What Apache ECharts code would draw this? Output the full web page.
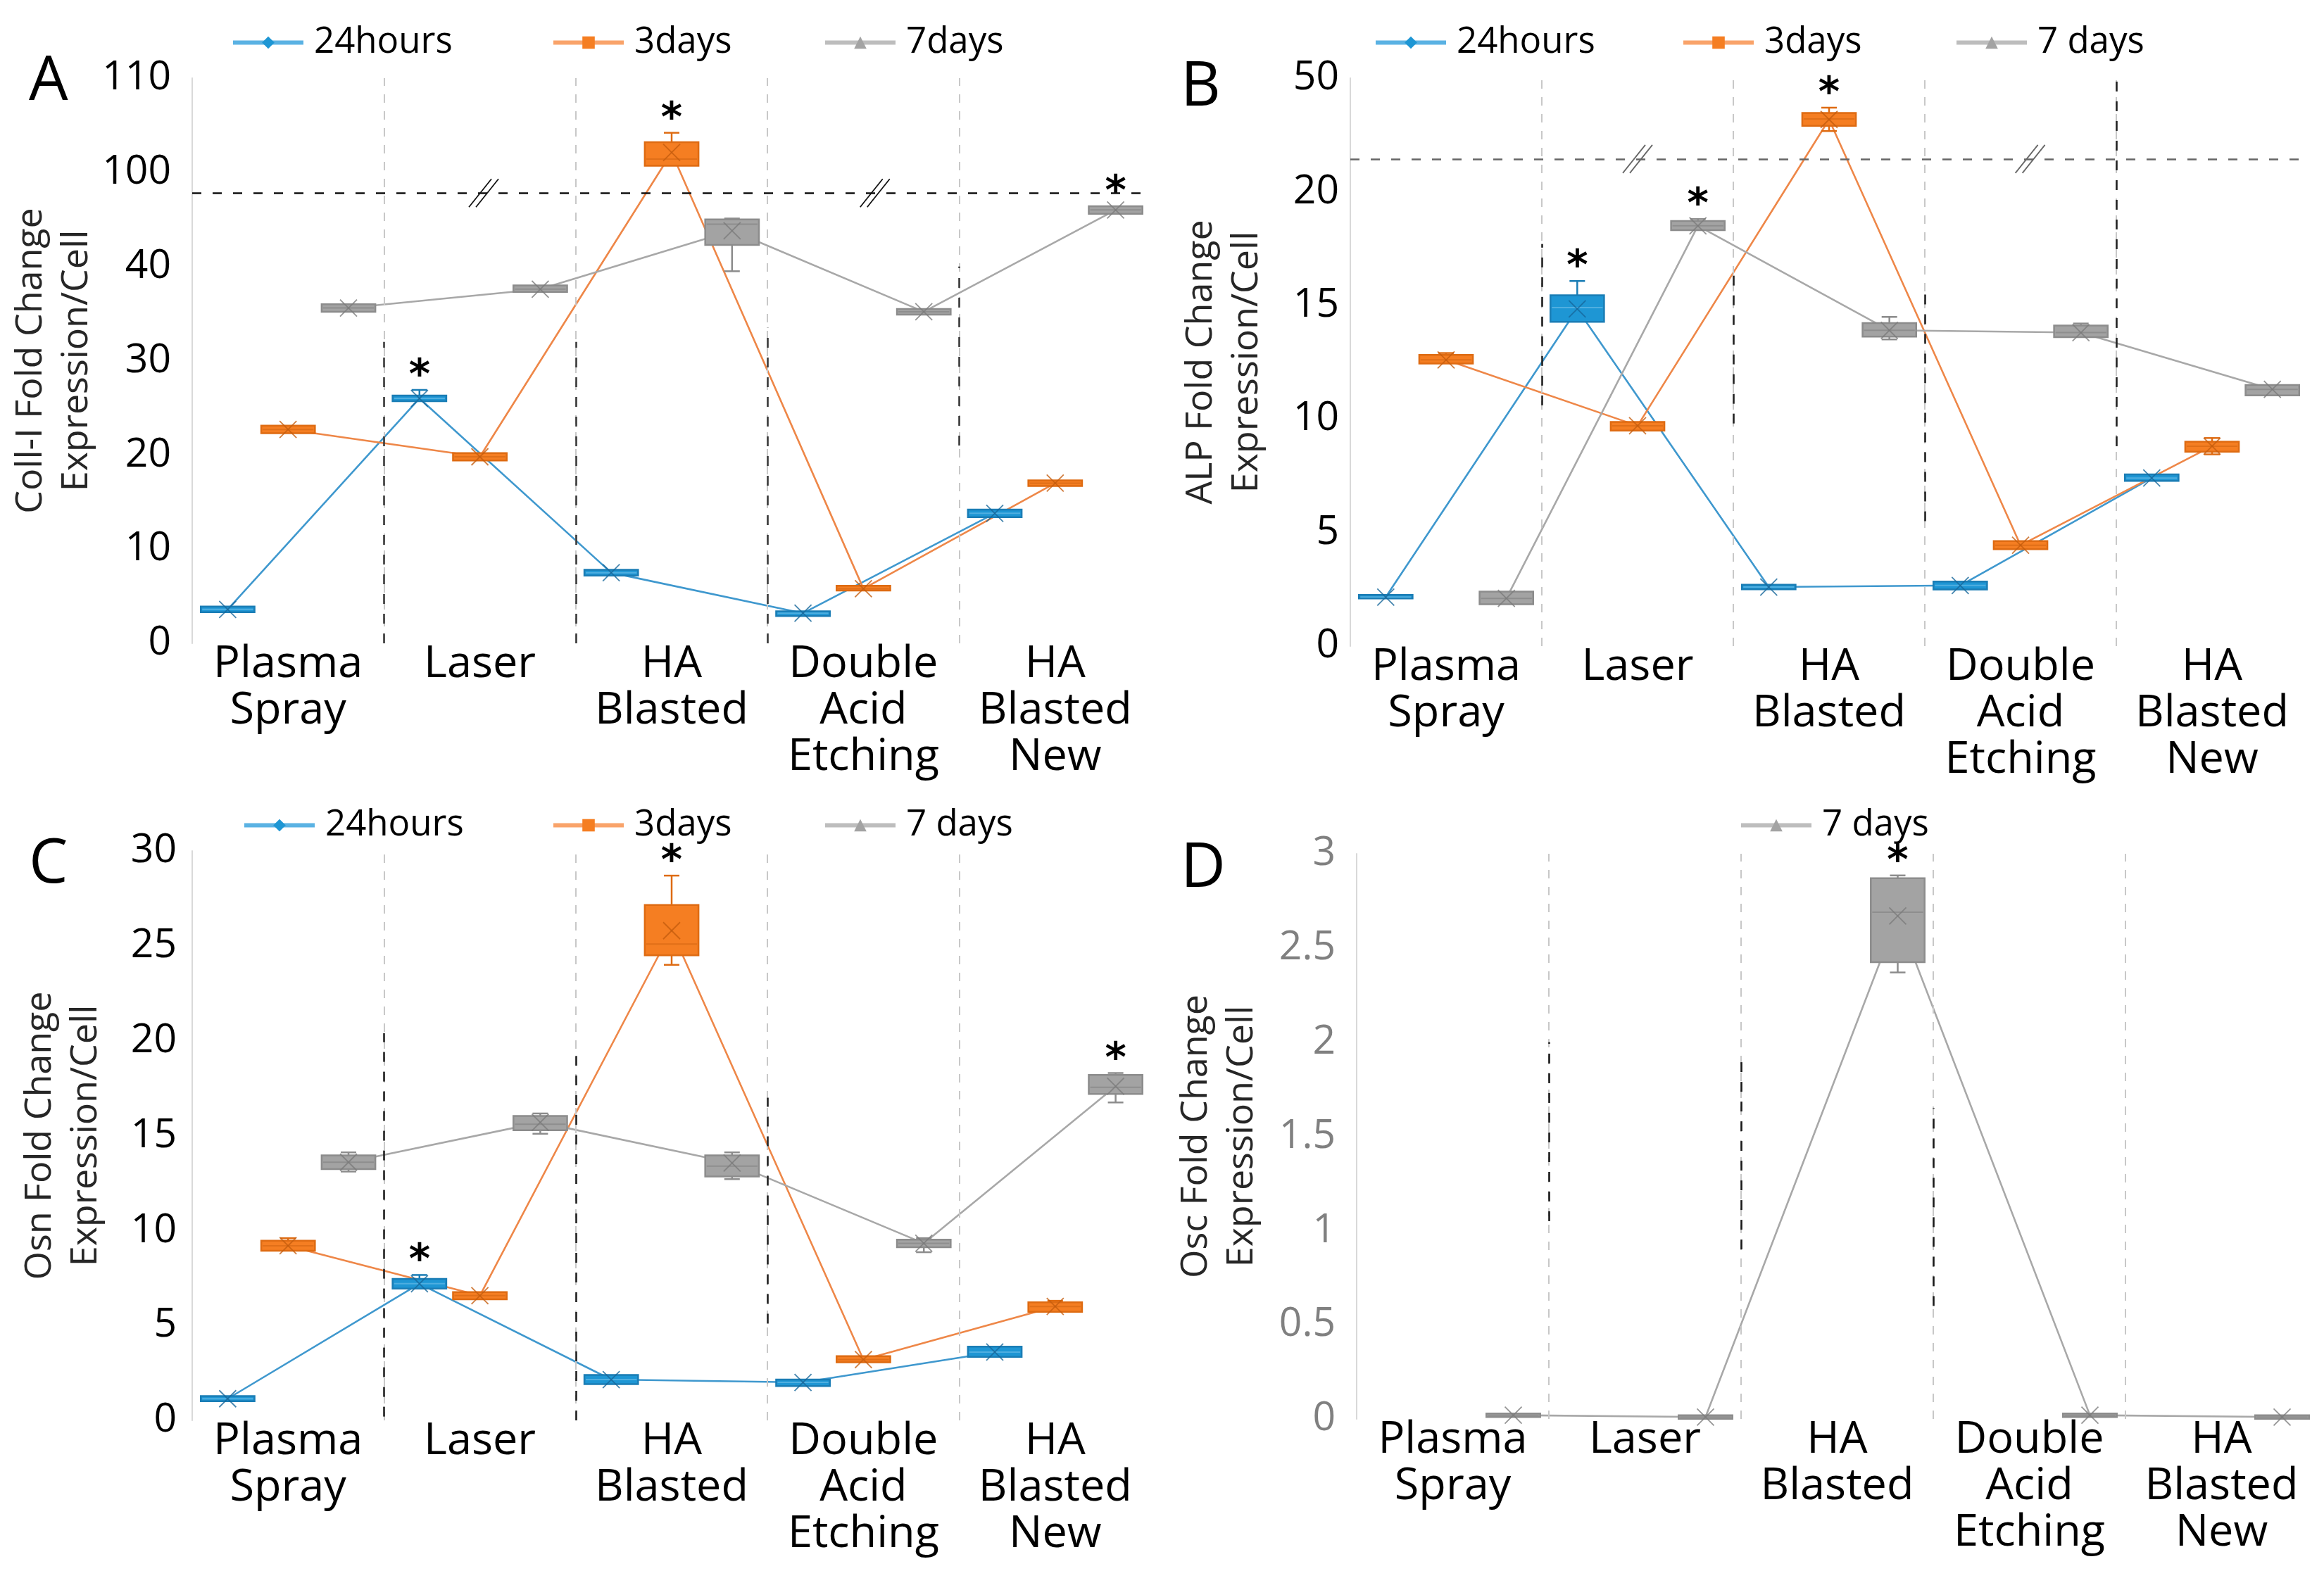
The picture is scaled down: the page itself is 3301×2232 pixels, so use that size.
<!DOCTYPE html>
<html>
<head>
<meta charset="utf-8">
<script src="https://cdn.jsdelivr.net/npm/echarts@6/dist/echarts.min.js"></script>
<style>
html,body{margin:0;padding:0;background:#fff;}
#chart{width:3301px;height:2232px;}
</style>
</head>
<body>
<div id="chart"></div>
<script>
// ---------------- DATA ----------------
const CATEGORIES = ['Plasma\nSpray', 'Laser', 'HA\nBlasted', 'Double\nAcid\nEtching', 'HA\nBlasted\nNew'];

// each box: [min, q1, median, q3, max, mean]
// Panel A - Coll-I
const A_NAMES = ['24hours', '3days', '7days'];
const A_TICKS = ['0', '10', '20', '30', '40', '100', '110'];
const A_BREAK = { lowerMax: 47.8, upperMin: 97.8 };
const A_24H = [[3.3, 3.3, 3.6, 3.9, 3.9, 3.6], [25.7, 25.7, 26.0, 26.3, 26.9, 26.0], [7.2, 7.2, 7.5, 7.8, 7.8, 7.5], [2.9, 2.9, 3.2, 3.4, 3.4, 3.2], [13.4, 13.4, 13.8, 14.2, 14.2, 13.8]];
const A_3D = [[22.3, 22.3, 22.7, 23.1, 23.1, 22.7], [19.4, 19.4, 19.8, 20.2, 20.2, 19.8], [100.7, 100.7, 101.4, 103.2, 104.2, 102.1], [5.6, 5.6, 5.8, 6.1, 6.1, 5.8], [16.7, 16.7, 17.0, 17.3, 17.3, 17.0]];
const A_7D = [[35.2, 35.2, 35.6, 36.0, 36.0, 35.6], [37.3, 37.3, 37.6, 38.0, 38.0, 37.6], [39.5, 42.3, 44.5, 45.0, 45.1, 43.8], [34.9, 34.9, 35.2, 35.5, 35.5, 35.2], [45.6, 45.6, 46.0, 46.4, 46.4, 46.0]];
const A_STARS = [[0, 1, 0, 0, 0], [0, 0, 1, 0, 0], [0, 0, 0, 0, 1]];

// Panel B - ALP
const B_NAMES = ['24hours', '3days', '7 days'];
const B_TICKS = ['0', '5', '10', '15', '20', '50'];
const B_BREAK = { lowerMax: 21.44, upperMin: 46.44 };
const B_24H = [[2.1, 2.1, 2.16, 2.25, 2.25, 2.16], [14.27, 14.27, 14.9, 15.44, 16.07, 14.84], [2.5, 2.5, 2.6, 2.7, 2.7, 2.6], [2.49, 2.49, 2.67, 2.84, 2.84, 2.67], [7.27, 7.27, 7.4, 7.56, 7.56, 7.4]];
const B_3D = [[12.44, 12.44, 12.6, 12.82, 12.9, 12.6], [9.49, 9.49, 9.7, 9.87, 9.87, 9.7], [47.67, 47.9, 48.2, 48.47, 48.7, 48.18], [4.27, 4.27, 4.44, 4.62, 4.62, 4.44], [8.44, 8.56, 8.8, 9.0, 9.16, 8.8]];
const B_7D = [[1.84, 1.84, 2.1, 2.4, 2.4, 2.1], [18.31, 18.31, 18.5, 18.71, 18.8, 18.5], [13.5, 13.62, 13.9, 14.22, 14.49, 13.9], [13.6, 13.6, 13.8, 14.11, 14.2, 13.8], [11.04, 11.04, 11.3, 11.49, 11.49, 11.3]];
const B_STARS = [[0, 1, 0, 0, 0], [0, 0, 1, 0, 0], [0, 1, 0, 0, 0]];

// Panel C - Osn
const C_NAMES = ['24hours', '3days', '7 days'];
const C_TICKS = ['0', '5', '10', '15', '20', '25', '30'];
const C_24H = [[1.01, 1.01, 1.14, 1.28, 1.28, 1.14], [6.94, 6.94, 7.2, 7.45, 7.66, 7.2], [1.91, 1.91, 2.15, 2.39, 2.39, 2.15], [1.81, 1.81, 2.0, 2.15, 2.15, 2.0], [3.35, 3.35, 3.6, 3.88, 3.88, 3.6]];
const C_3D = [[8.94, 8.94, 9.2, 9.47, 9.6, 9.2], [6.38, 6.38, 6.57, 6.76, 6.76, 6.57], [24.0, 24.5, 25.1, 27.15, 28.7, 25.8], [3.06, 3.06, 3.2, 3.38, 3.38, 3.2], [5.72, 5.72, 6.0, 6.22, 6.3, 6.0]];
const C_7D = [[13.11, 13.24, 13.6, 13.96, 14.12, 13.6], [15.1, 15.29, 15.6, 16.04, 16.17, 15.7], [12.71, 12.85, 13.4, 13.96, 14.12, 13.56], [8.86, 9.12, 9.33, 9.52, 9.6, 9.33], [16.75, 17.2, 17.55, 18.2, 18.3, 17.6]];
const C_STARS = [[0, 1, 0, 0, 0], [0, 0, 1, 0, 0], [0, 0, 0, 0, 1]];

// Panel D - Osc
const D_NAMES = ['7 days'];
const D_TICKS = ['0', '0.5', '1', '1.5', '2', '2.5', '3'];
const D_7D = [[0.02, 0.02, 0.02, 0.02, 0.02, 0.02], [0.01, 0.01, 0.01, 0.01, 0.01, 0.01], [2.37, 2.425, 2.69, 2.87, 2.885, 2.67], [0.02, 0.02, 0.02, 0.02, 0.02, 0.02], [0.01, 0.01, 0.01, 0.01, 0.01, 0.01]];
const D_STARS = [[0, 0, 1, 0, 0]];

// ---------------- STYLE / LAYOUT ----------------
const FONT = 'Open Sans';
const OFFSETS = [0.185, 0.5, 0.815];      // box position inside each category band
const BOX_WIDTH = 0.28;                    // in category-band units
const CAP_PX = 22;
const SYMBOLS = ['diamond', 'rect', 'triangle'];
const COLORS = [
  { fill: '#1E96D4', stroke: '#1A7DB5', median: '#4FAEE0', line: '#3F98CE', legend: '#5AB2E3', mean: '#17679A' },
  { fill: '#F57E22', stroke: '#DE6B12', median: '#E06F18', line: '#EE8748', legend: '#F9A36A', mean: '#C45C0E' },
  { fill: '#A3A3A3', stroke: '#8C8C8C', median: '#8E8E8E', line: '#A8A8A8', legend: '#BDBDBD', mean: '#7A7A7A' }
];

const PANELS = [
  { letter: 'A', letterPos: [36, 68], names: A_NAMES, series: [0, 1, 2], data: [A_24H, A_3D, A_7D], stars: A_STARS,
    ticks: A_TICKS, interval: 10, brk: A_BREAK, yName: 'Coll-I Fold Change\nExpression/Cell',
    grid: { left: 273, top: 111, width: 1362, height: 803 }, labelMargin: 30, nameGap: 110, tickColor: '#000',
    legendLeft: [323, 778, 1164], legendTop: 30,
    dark: [[1, 0, 32], [2, 0, 32], [3, 0, 33.5], [4, 21, 40]], darkColor: '#3a3a3a',
    breakColor: '#111', breakMarks: [1.52, 3.56] },
  { letter: 'B', letterPos: [1672, 76], names: B_NAMES, series: [0, 1, 2], data: [B_24H, B_3D, B_7D], stars: B_STARS,
    ticks: B_TICKS, interval: 5, brk: B_BREAK, yName: 'ALP Fold Change\nExpression/Cell',
    grid: { left: 1918, top: 111, width: 1360, height: 807 }, labelMargin: 16, nameGap: 114, tickColor: '#000',
    legendLeft: [1946, 2383, 2771], legendTop: 30,
    dark: [[1, 10.6, 17.7], [2, 9.8, 16.7], [3, 5.5, 15.6], [4, 8.8, 25]], darkColor: '#222',
    breakColor: '#666', breakMarks: [1.5, 3.55] },
  { letter: 'C', letterPos: [36, 1180], names: C_NAMES, series: [0, 1, 2], data: [C_24H, C_3D, C_7D], stars: C_STARS,
    ticks: C_TICKS, interval: 5, brk: null, yName: 'Osn Fold Change\nExpression/Cell',
    grid: { left: 273, top: 1209, width: 1362, height: 809 }, labelMargin: 22, nameGap: 118, tickColor: '#000',
    legendLeft: [339, 778, 1164], legendTop: 1142,
    dark: [[1, 0.2, 20.4], [2, 0, 19.2], [3, 5.1, 17.0]], darkColor: '#222',
    breakColor: null, breakMarks: [] },
  { letter: 'D', letterPos: [1672, 1186], names: D_NAMES, series: [2], data: [D_7D], stars: D_STARS,
    ticks: D_TICKS, interval: 0.5, brk: null, yName: 'Osc Fold Change\nExpression/Cell',
    grid: { left: 1927, top: 1213, width: 1365, height: 803 }, labelMargin: 30, nameGap: 130, tickColor: '#808080',
    legendLeft: [2465], legendTop: 1142,
    dark: [[1, 1.05, 2.0], [2, 0.9, 1.9], [3, 0.6, 1.65]], darkColor: '#1a1a1a',
    breakColor: null, breakMarks: [] }
];

// ---------------- HELPERS ----------------
function eff(v, brk) {
  return brk && v >= brk.upperMin ? v - (brk.upperMin - brk.lowerMax) : v;
}

function makeBoxRender(c) {
  return function (params, api) {
    const x = api.value(0);
    const vals = [1, 2, 3, 4, 5, 6].map(function (i) { return api.value(i); });
    const star = api.value(7);
    const w = api.size([BOX_WIDTH, 0])[0];
    const P = vals.map(function (v) { return api.coord([x, v]); });
    const cx = P[0][0];
    const yMin = P[0][1], yQ1 = P[1][1], yMed = P[2][1], yQ3 = P[3][1], yMax = P[4][1], yMean = P[5][1];
    const ch = [];
    const wl = { stroke: c.stroke, lineWidth: 2.5 };
    if (yQ3 - yMax > 1) {
      ch.push({ type: 'line', shape: { x1: cx, y1: yQ3, x2: cx, y2: yMax }, style: wl });
      ch.push({ type: 'line', shape: { x1: cx - CAP_PX / 2, y1: yMax, x2: cx + CAP_PX / 2, y2: yMax }, style: wl });
    }
    if (yMin - yQ1 > 1) {
      ch.push({ type: 'line', shape: { x1: cx, y1: yQ1, x2: cx, y2: yMin }, style: wl });
      ch.push({ type: 'line', shape: { x1: cx - CAP_PX / 2, y1: yMin, x2: cx + CAP_PX / 2, y2: yMin }, style: wl });
    }
    let h = yQ1 - yQ3;
    let top = yQ3;
    if (h < 5) { top = (yQ1 + yQ3) / 2 - 2.5; h = 5; }
    ch.push({ type: 'rect', shape: { x: cx - w / 2, y: top, width: w, height: h },
      style: { fill: c.fill, stroke: c.stroke, lineWidth: 2.5 } });
    ch.push({ type: 'line', shape: { x1: cx - w / 2 + 2, y1: yMed, x2: cx + w / 2 - 2, y2: yMed },
      style: { stroke: c.median, lineWidth: 2 } });
    const m = 12;
    ch.push({ type: 'line', shape: { x1: cx - m, y1: yMean - m, x2: cx + m, y2: yMean + m }, style: { stroke: c.mean, lineWidth: 1.8, opacity: 0.8 } });
    ch.push({ type: 'line', shape: { x1: cx - m, y1: yMean + m, x2: cx + m, y2: yMean - m }, style: { stroke: c.mean, lineWidth: 1.8, opacity: 0.8 } });
    if (star) {
      ch.push({ type: 'text', style: { text: '*', x: cx, y: Math.min(yMax, top) - 18, align: 'center', verticalAlign: 'middle',
        font: 'bold 58px "DejaVu Sans"', fill: '#000' } });
    }
    return { type: 'group', children: ch };
  };
}

function makeBreakRender(color) {
  return function (params, api) {
    const p = api.coord([api.value(0), api.value(1)]);
    const ch = [-5, 5].map(function (dx) {
      return { type: 'line', shape: { x1: p[0] + dx - 16, y1: p[1] + 20, x2: p[0] + dx + 16, y2: p[1] - 20 },
        style: { stroke: color, lineWidth: 1.8 } };
    });
    return { type: 'group', children: ch };
  };
}

// ---------------- OPTION ----------------
const option = {
  animation: false,
  backgroundColor: '#ffffff',
  title: [], grid: [], xAxis: [], yAxis: [], legend: [], series: []
};

PANELS.forEach(function (p, gi) {
  option.title.push({ text: p.letter, left: p.letterPos[0], top: p.letterPos[1],
    textStyle: { fontFamily: FONT, fontSize: 88, fontWeight: 'normal', color: '#000' } });
  option.grid.push(Object.assign({ containLabel: false, outerBoundsMode: 'none' }, p.grid));
  option.xAxis.push({ type: 'value', gridIndex: gi, min: 0, max: 5, show: false });
  option.xAxis.push({ type: 'category', gridIndex: gi, data: CATEGORIES, position: 'bottom',
    axisLine: { show: false }, axisTick: { show: false }, splitLine: { show: false },
    axisLabel: { interval: 0, fontFamily: FONT, fontSize: 63, lineHeight: 66, color: '#000', margin: -3 } });
  const maxV = (p.ticks.length - 1) * p.interval;
  option.yAxis.push({ type: 'value', gridIndex: gi, min: 0, max: maxV, interval: p.interval,
    axisLine: { show: true, lineStyle: { color: '#D9D9D9', width: 2 } },
    axisTick: { show: false }, splitLine: { show: false },
    axisLabel: { fontFamily: FONT, fontSize: 57, color: p.tickColor, margin: p.labelMargin,
      formatter: (function (ticks, iv) { return function (v) { return ticks[Math.round(v / iv)]; }; })(p.ticks, p.interval) },
    name: p.yName, nameLocation: 'middle', nameRotate: 90, nameGap: p.nameGap,
    nameTextStyle: { fontFamily: FONT, fontSize: 52, lineHeight: 65, color: '#262626', align: 'center' } });

  const xIdx = gi * 2;
  p.series.forEach(function (sIdx, k) {
    const rows = p.data[k];
    const stars = p.stars[k];
    const c = COLORS[sIdx];
    const name = p.names[k];
    const lineSeries = {
      type: 'line', name: name, xAxisIndex: xIdx, yAxisIndex: gi, z: 2,
      data: rows.map(function (r, i) { return [i + OFFSETS[sIdx], eff(r[5], p.brk)]; }),
      symbol: SYMBOLS[sIdx], symbolSize: 14, showSymbol: false,
      lineStyle: { color: c.line, width: 2.6 }, itemStyle: { color: c.fill }, silent: true
    };
    if (k === 0) {
      const ml = [];
      [1, 2, 3, 4].forEach(function (xv) {
        ml.push({ xAxis: xv, lineStyle: { color: '#C8C8C8', type: [12, 12], width: 2 } });
      });
      p.dark.forEach(function (d) {
        ml.push([{ coord: [d[0], d[1]], lineStyle: { color: p.darkColor, type: [14, 14], width: 2.6 } }, { coord: [d[0], d[2]] }]);
      });
      if (p.brk) {
        ml.push({ yAxis: p.brk.lowerMax, lineStyle: { color: p.breakColor, type: [13, 16], width: 2.6 } });
      }
      lineSeries.markLine = { silent: true, symbol: 'none', label: { show: false }, animation: false, data: ml };
    }
    option.series.push(lineSeries);
    option.series.push({
      type: 'custom', name: name + ' box', xAxisIndex: xIdx, yAxisIndex: gi, z: 3, silent: true,
      renderItem: makeBoxRender(c),
      encode: { x: 0, y: [1, 2, 3, 4, 5, 6] },
      data: rows.map(function (r, i) {
        return [i + OFFSETS[sIdx]].concat(r.map(function (v) { return eff(v, p.brk); })).concat([stars[i]]);
      })
    });
    option.legend.push({ data: [name],
      left: p.legendLeft[k], top: p.legendTop, orient: 'horizontal',
      itemWidth: 100, itemHeight: 22, selectedMode: false,
      lineStyle: { color: c.legend, width: 6 },
      itemStyle: { color: c.fill },
      textStyle: { fontFamily: FONT, fontSize: 51, color: '#000', padding: [0, 0, 0, 10] } });
  });
  if (p.brk) {
    option.series.push({
      type: 'custom', name: 'break' + gi, xAxisIndex: xIdx, yAxisIndex: gi, z: 4, silent: true,
      renderItem: makeBreakRender(p.breakColor), encode: { x: 0, y: 1 },
      data: p.breakMarks.map(function (xv) { return [xv, p.brk.lowerMax]; })
    });
  }
});

const chart = echarts.init(document.getElementById('chart'), null, { renderer: 'canvas' });
chart.setOption(option);
</script>
</body>
</html>
